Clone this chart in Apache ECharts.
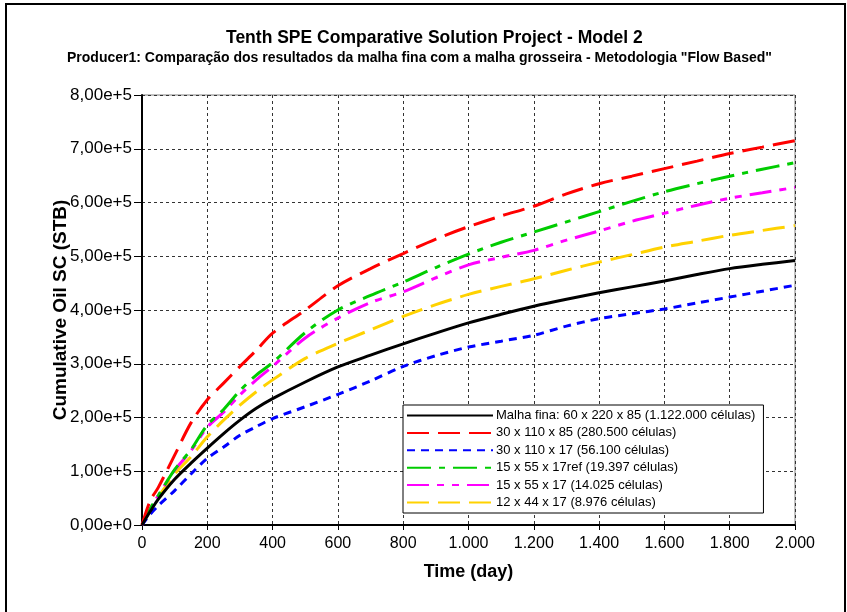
<!DOCTYPE html>
<html>
<head>
<meta charset="utf-8">
<script src="https://cdn.jsdelivr.net/npm/echarts@6/dist/echarts.min.js"></script>
<style>
html,body{margin:0;padding:0;background:#fff;}
#chart{width:847px;height:612px;}
</style>
</head>
<body>
<div id="chart"></div>
<script>
const titleText = 'Tenth SPE Comparative Solution Project - Model 2';
const subtitleText = 'Producer1: Comparação dos resultados da malha fina com a malha grosseira - Metodologia "Flow Based"';
const xName = 'Time (day)';
const yName = 'Cumulative Oil SC (STB)';

const timeDays = [0, 25, 50, 100, 150, 200, 250, 300, 350, 400, 500, 600, 700, 800, 900, 1000, 1100, 1200, 1300, 1400, 1500, 1600, 1700, 1800, 1900, 2000];

const seriesNames = [
  'Malha fina: 60 x 220 x 85 (1.122.000 células)',
  '30 x 110 x 85 (280.500 células)',
  '30 x 110 x 17 (56.100 células)',
  '15 x 55 x 17ref (19.397 células)',
  '15 x 55 x 17 (14.025 células)',
  '12 x 44 x 17 (8.976 células)'
];

// values in units of 1e5 STB
const malhaFina = [0, 0.25, 0.48, 0.85, 1.15, 1.43, 1.70, 1.95, 2.17, 2.35, 2.66, 2.94, 3.16, 3.37, 3.57, 3.76, 3.92, 4.07, 4.20, 4.32, 4.43, 4.54, 4.66, 4.77, 4.85, 4.92];
const m30x110x85 = [0, 0.45, 0.70, 1.30, 1.90, 2.33, 2.64, 2.95, 3.25, 3.57, 4.00, 4.45, 4.77, 5.05, 5.32, 5.55, 5.75, 5.93, 6.16, 6.35, 6.49, 6.63, 6.77, 6.91, 7.03, 7.15];
const m30x110x17 = [0, 0.20, 0.36, 0.64, 0.95, 1.24, 1.45, 1.67, 1.83, 1.98, 2.20, 2.43, 2.68, 2.95, 3.15, 3.31, 3.42, 3.53, 3.70, 3.84, 3.93, 4.02, 4.13, 4.24, 4.35, 4.46];
const m15x55x17ref = [0, 0.30, 0.55, 1.03, 1.40, 1.86, 2.15, 2.50, 2.79, 3.02, 3.58, 4.00, 4.27, 4.52, 4.79, 5.04, 5.26, 5.45, 5.64, 5.83, 6.02, 6.20, 6.35, 6.49, 6.62, 6.74];
const m15x55x17 = [0, 0.30, 0.55, 1.02, 1.38, 1.82, 2.10, 2.42, 2.70, 2.95, 3.48, 3.85, 4.14, 4.34, 4.60, 4.84, 4.98, 5.11, 5.30, 5.47, 5.65, 5.80, 5.95, 6.08, 6.18, 6.28];
const m12x44x17 = [0, 0.28, 0.52, 0.95, 1.27, 1.64, 1.95, 2.23, 2.48, 2.70, 3.10, 3.38, 3.63, 3.88, 4.10, 4.29, 4.44, 4.58, 4.74, 4.89, 5.03, 5.17, 5.28, 5.39, 5.48, 5.57];

const seriesValues = [malhaFina, m30x110x85, m30x110x17, m15x55x17ref, m15x55x17, m12x44x17];

const FONT = '"Liberation Sans", Arial, sans-serif';
const colors = ['#000000', '#ff0000', '#0000ff', '#00cc00', '#ff00ff', '#ffd200'];
const dashes = ['solid', [22, 9], [8, 6], [24, 8, 6, 8], [22, 8, 7, 8, 7, 8], [22, 9]];

function fmtY(v) {
  if (v === 0) return '0,00e+0';
  return (v / 1e5).toFixed(2).replace('.', ',') + 'e+5';
}
function fmtX(v) {
  return String(v).replace(/\B(?=(\d{3})+(?!\d))/g, '.');
}

const chart = echarts.init(document.getElementById('chart'), null, {renderer: 'canvas'});

const series = seriesNames.map((name, i) => ({
  name: name,
  type: 'line',
  symbol: 'none',
  showSymbol: false,
  smooth: 0.3,
  z: 2 + (6 - i),
  data: timeDays.map((t, k) => [t, seriesValues[i][k] * 1e5]),
  lineStyle: {color: colors[i], width: 3, type: dashes[i]},
  itemStyle: {color: colors[i]},
  emphasis: {disabled: true}
}));

chart.setOption({
  animation: false,
  backgroundColor: '#ffffff',
  graphic: [{
    type: 'rect',
    shape: {x: 6, y: 4, width: 839, height: 640},
    style: {fill: 'none', stroke: '#000', lineWidth: 2},
    silent: true
  }],
  title: [{
    text: titleText,
    left: 221,
    top: 24,
    textStyle: {fontFamily: FONT, fontSize: 17.5, fontWeight: 'bold', color: '#000'}
  }, {
    text: subtitleText,
    left: 62,
    top: 46,
    textStyle: {fontFamily: FONT, fontSize: 14, fontWeight: 'bold', color: '#000'}
  }],
  legend: {
    data: seriesNames,
    orient: 'vertical',
    left: 403,
    top: 405,
    itemWidth: 86,
    itemHeight: 12,
    itemGap: 4.4,
    padding: [4, 8, 4, 3],
    backgroundColor: '#ffffff',
    borderColor: '#000',
    borderWidth: 1,
    borderRadius: 0,
    selectedMode: false,
    itemStyle: {opacity: 0, color: 'rgba(0,0,0,0)', borderWidth: 0},
    textStyle: {fontFamily: FONT, fontSize: 13, color: '#000', padding: [0, 0, 0, -2]},
    z: 20
  },
  grid: {
    left: 142, right: 52, top: 95, bottom: 87,
    show: true,
    borderColor: '#808080',
    borderWidth: 1,
    containLabel: false
  },
  xAxis: {
    type: 'value',
    min: 0, max: 2000, interval: 200,
    name: xName,
    nameLocation: 'middle',
    nameGap: 38,
    nameMoveOverlap: false,
    nameTextStyle: {fontFamily: FONT, fontSize: 18, fontWeight: 'bold', color: '#000'},
    axisLine: {lineStyle: {color: '#000', width: 2}},
    axisTick: {show: true, length: 5, lineStyle: {color: '#000', width: 1}},
    axisLabel: {fontFamily: FONT, fontSize: 16, color: '#000', margin: 11, formatter: fmtX},
    splitLine: {show: true, lineStyle: {color: '#333', width: 1, type: [3, 3]}}
  },
  yAxis: {
    type: 'value',
    min: 0, max: 800000, interval: 100000,
    name: yName,
    nameLocation: 'middle',
    nameGap: 72,
    nameMoveOverlap: false,
    nameTextStyle: {fontFamily: FONT, fontSize: 19, fontWeight: 'bold', color: '#000'},
    axisLine: {show: true, lineStyle: {color: '#000', width: 2}},
    axisTick: {show: true, length: 8, lineStyle: {color: '#000', width: 1}},
    axisLabel: {fontFamily: FONT, fontSize: 17, color: '#000', margin: 10, formatter: fmtY},
    splitLine: {show: true, lineStyle: {color: '#333', width: 1, type: [3, 3]}}
  },
  series: series
});
</script>
</body>
</html>
